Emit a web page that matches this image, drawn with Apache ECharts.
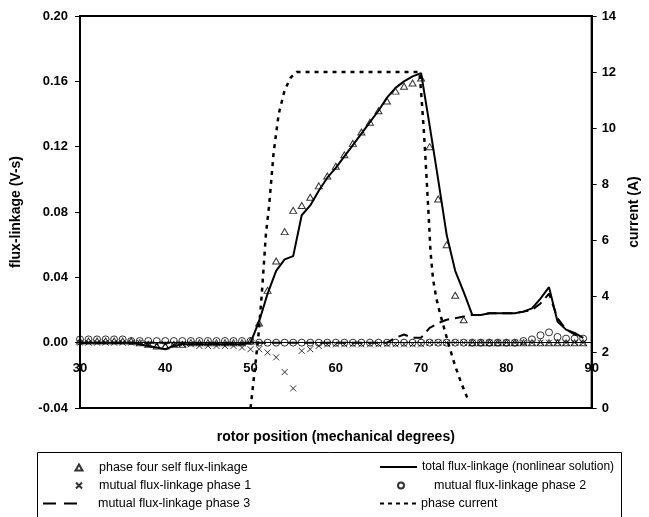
<!DOCTYPE html>
<html><head><meta charset="utf-8">
<script src="https://cdn.jsdelivr.net/npm/echarts@6/dist/echarts.min.js"></script>
<style>html,body{margin:0;padding:0;background:#fff}#c{width:649px;height:517px}</style>
</head><body><div id="c"></div>
<script>
var deg = [30,31,32,33,34,35,36,37,38,39,40,41,42,43,44,45,46,47,48,49,50,51,52,53,54,55,56,57,58,59,60,61,62,63,64,65,66,67,68,69,70,71,72,73,74,75,76,77,78,79,80,81,82,83,84,85,86,87,88,89];
var selfFlux = [0.001,0.001,0.001,0.001,0.001,0.001,0.001,0.000,-0.001,-0.002,-0.002,-0.001,-0.001,0.000,0.000,0.000,0.000,0.000,0.000,0.000,0.001,0.012,0.032,0.050,0.068,0.081,0.084,0.089,0.096,0.102,0.108,0.115,0.122,0.129,0.135,0.142,0.148,0.154,0.157,0.159,0.162,0.120,0.088,0.060,0.029,0.014,0,0,0,0,0,0,0,0,0,0,0,0,0,0];
var totalFlux = [0,0,0,0,0,0,0,-0.001,-0.002,-0.003,-0.004,-0.002,-0.001,-0.001,-0.001,-0.001,-0.001,-0.001,-0.001,-0.001,0.000,0.013,0.030,0.044,0.051,0.053,0.078,0.084,0.093,0.101,0.107,0.114,0.121,0.128,0.135,0.142,0.150,0.156,0.160,0.163,0.165,0.133,0.100,0.066,0.044,0.031,0.017,0.017,0.018,0.018,0.018,0.018,0.019,0.021,0.027,0.034,0.013,0.008,0.006,0.003];
var mutual1 = [0,0,0,0,0,0,0,0,-0.001,-0.001,-0.001,-0.001,-0.001,-0.001,-0.002,-0.002,-0.002,-0.002,-0.002,-0.003,-0.004,-0.004,-0.006,-0.009,-0.018,-0.028,-0.005,-0.004,-0.002,-0.001,-0.001,-0.001,-0.001,-0.001,-0.001,-0.001,-0.001,-0.001,-0.001,-0.001,-0.001,0,0,0,0,0,0,0,0,0,0,0,0,0,0,0,0,0,0,0];
var mutual2 = [0.002,0.002,0.002,0.002,0.002,0.002,0.001,0.001,0.001,0.001,0.001,0.001,0.001,0.001,0.001,0.001,0.001,0.001,0.001,0.001,0.001,0,0,0,0,0,0,0,0,0,0,0,0,0,0,0,0,0,0,0,0,0,0,0,0,0,0,0,0,0,0,0,0.001,0.002,0.0045,0.0063,0.0035,0.0025,0.0025,0.0025];
var mutual3 = [0,0,0,0,0,0,0,0,0,0,0,0,0,0,0,0,0,0,0,0,0,0,0,0,0,0,0,0,0,0,0,0,0,0,0,0,0,0.003,0.005,0.003,0.003,0.009,0.012,0.014,0.015,0.016,0.017,0.017,0.018,0.018,0.018,0.018,0.019,0.020,0.024,0.030,0.015,0.008,0.005,0.003];
var curX = [50,50.4,50.9,51.3,51.6,51.8,52.2,52.7,53.3,54.0,54.7,55.4,69.8,70.0,70.3,70.5,70.7,70.9,71.1,71.4,71.8,72.2,73.2,74.0,74.7,75.5];
var curY = [0,1.1,2.5,4.0,5.3,6.2,7.3,9.1,10.5,11.35,11.8,12,12,11.3,10.0,9.0,7.9,6.8,5.6,4.6,3.9,3.4,2.3,1.5,0.9,0.3];
var leftTicks = {min:-0.04, max:0.20, interval:0.04};
var rightTicks = {min:0, max:14, interval:2};
var xTicks = {min:30, max:90, interval:10};

var names = ['phase four self flux-linkage','total flux-linkage (nonlinear solution)','mutual flux-linkage phase 1','mutual flux-linkage phase 2','mutual flux-linkage phase 3','phase current'];

function pairs(xs, ys){ return xs.map(function(x,i){ return [x, ys[i]]; }); }

var FONT = '"Liberation Sans", Arial, sans-serif';
var chart = echarts.init(document.getElementById('c'), null, {renderer:'canvas'});
function leg(item, left, top, w, h, padLeft, fs){
  return {data:[item], left:left, top:top, itemWidth:w, itemHeight:h, padding:0, selectedMode:false,
    textStyle:{fontSize:fs, color:'#000', fontFamily:FONT, padding:[0,0,0,padLeft]}};
}
var gridH = 517 - 16 - 109;
var zeroOffset = -gridH * (0 - leftTicks.min) / (leftTicks.max - leftTicks.min);
chart.setOption({
  animation:false,
  backgroundColor:'#fff',
  grid:{left:80, right:50, top:16, bottom:109, show:true, borderColor:'#000', borderWidth:2, backgroundColor:'transparent'},
  xAxis:{type:'value', min:xTicks.min, max:xTicks.max, interval:xTicks.interval, offset:zeroOffset,
    name:'rotor position (mechanical degrees)', nameLocation:'middle', nameGap:87,
    nameTextStyle:{fontSize:14, fontWeight:'bold', color:'#000', fontFamily:FONT},
    axisLine:{onZero:false, lineStyle:{color:'#000', width:1}},
    axisTick:{show:false},
    axisLabel:{margin:19, fontSize:13, fontWeight:'bold', color:'#000', fontFamily:FONT},
    splitLine:{show:false}},
  yAxis:[
    {type:'value', min:leftTicks.min, max:leftTicks.max, interval:leftTicks.interval, position:'left',
     name:'flux-linkage (V-s)', nameLocation:'middle', nameGap:57, nameRotate:90,
     nameTextStyle:{fontSize:14, fontWeight:'bold', color:'#000', fontFamily:FONT},
     axisLine:{show:true, lineStyle:{color:'#000', width:2}},
     axisTick:{show:true, length:5, lineStyle:{color:'#000', width:1}},
     axisLabel:{margin:12, fontSize:13, fontWeight:'bold', color:'#000', fontFamily:FONT, formatter:function(v){return v.toFixed(2);}},
     splitLine:{show:false}},
    {type:'value', min:rightTicks.min, max:rightTicks.max, interval:rightTicks.interval, position:'right',
     name:'current (A)', nameLocation:'middle', nameGap:35, nameRotate:90,
     nameTextStyle:{fontSize:14, fontWeight:'bold', color:'#000', fontFamily:FONT},
     axisLine:{show:true, lineStyle:{color:'#000', width:2}},
     axisTick:{show:true, length:5, lineStyle:{color:'#000', width:1}},
     axisLabel:{margin:10, fontSize:13, fontWeight:'bold', color:'#000', fontFamily:FONT},
     splitLine:{show:false}}
  ],
  legend:[
    leg({name:names[0], icon:'triangle'}, 74.5, 461, 7, 6, 11.5, 12.5),
    leg({name:names[2]}, 75, 479, 6, 6, 12, 12.5),
    leg({name:names[4], icon:'path://M0,0H13V2H0Z M21,0H34V2H21Z'}, 43, 497, 34, 2, 16, 12.5),
    leg({name:names[1], icon:'path://M0,0H37V2H0Z'}, 380, 461, 37, 2, 0, 12),
    leg({name:names[3], icon:'circle'}, 397, 479, 6, 6, 25, 12.5),
    leg({name:names[5], icon:'path://M0,0H4V2H0Z M8,0H12V2H8Z M16,0H20V2H16Z M24,0H28V2H24Z M32,0H36V2H32Z'}, 380, 497, 36, 2, 0, 12.5)
  ],
  graphic:[{type:'rect', shape:{x:37.5, y:452.5, width:584, height:80}, style:{fill:'none', stroke:'#000', lineWidth:1}, silent:true}],
  series:[
    {name:names[4], type:'line', data:pairs(deg, mutual3), symbol:'none', showSymbol:false,
     lineStyle:{color:'#000', width:2, type:[10,6]}, itemStyle:{color:'#000'}, z:2},
    {name:names[1], type:'line', data:pairs(deg, totalFlux), symbol:'none', showSymbol:false,
     lineStyle:{color:'#000', width:2, type:'solid'}, itemStyle:{color:'#000'}, z:3},
    {name:names[5], type:'line', yAxisIndex:1, data:pairs(curX, curY), symbol:'none', showSymbol:false, smooth:false,
     lineStyle:{color:'#000', width:2.5, type:[4,5]}, itemStyle:{color:'#000'}, z:2},
    {name:names[0], type:'scatter', data:pairs(deg, selfFlux), symbol:'triangle', symbolSize:[7,6],
     itemStyle:{color:'transparent', borderColor:'#000', borderWidth:1}, z:4},
    {name:names[2], type:'scatter', data:pairs(deg, mutual1), symbol:'path://M0,0L8,8M8,0L0,8', symbolSize:6,
     itemStyle:{color:'transparent', borderColor:'#000', borderWidth:1}, z:4},
    {name:names[3], type:'scatter', data:pairs(deg, mutual2), symbol:'circle', symbolSize:7,
     itemStyle:{color:'transparent', borderColor:'#000', borderWidth:1}, z:4}
  ]
});
</script></body></html>
